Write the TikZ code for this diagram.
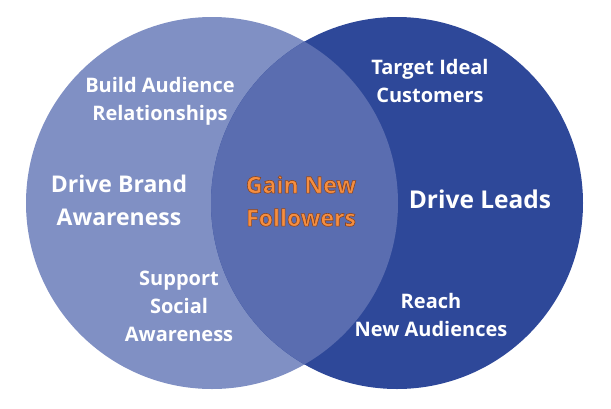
\documentclass[tikz,border=0pt]{standalone}
\usepackage{fontspec}
\setmainfont{Open Sans}
\definecolor{leftblue}{RGB}{128,144,196}
\definecolor{rightblue}{RGB}{46,72,153}
\definecolor{midblue}{RGB}{90,109,176}
\definecolor{gainorange}{RGB}{245,142,64}
% orange text with a dark edge (fill and stroke render mode)
\newcommand\edged[1]{\special{pdf:literal direct 0.55 0.27 0.12 RG 0.6 w 2 Tr}#1\special{pdf:literal direct 0 Tr}}
\tikzset{
  small/.style={text=white,align=center,font=\fontsize{20}{28}\selectfont\bfseries},
  large/.style={text=white,align=center,font=\fontsize{23}{33}\selectfont\bfseries}
}
\begin{document}
\begin{tikzpicture}[x=1pt,y=-1pt]
  \useasboundingbox (0,0) rectangle (611,408);
  % the two sets
  \fill[leftblue] (212,203) circle (186pt);
  \fill[rightblue] (397,203) circle (186pt);
  \begin{scope}
    \clip (212,203) circle (186pt);
    \fill[midblue] (397,203) circle (186pt);
  \end{scope}

  \node[small] (build) at (160,101) {Build Audience\\Relationships};
  \node[large] (brand) at (119,200) {Drive Brand\\Awareness};
  \node[small] (social) at (179,306) {Support\\Social\\Awareness};
  \node[large,text=gainorange] (gain) at (301,201) {\edged{Gain New}\\\edged{Followers}};
  \node[small] (target) at (430,81) {Target Ideal\\Customers};
  \node[large,font=\fontsize{24.5}{33}\selectfont\bfseries] (leads) at (480,199) {Drive Leads};
  \node[small] (reach) at (431,315) {Reach\\New Audiences};
\end{tikzpicture}
\end{document}
